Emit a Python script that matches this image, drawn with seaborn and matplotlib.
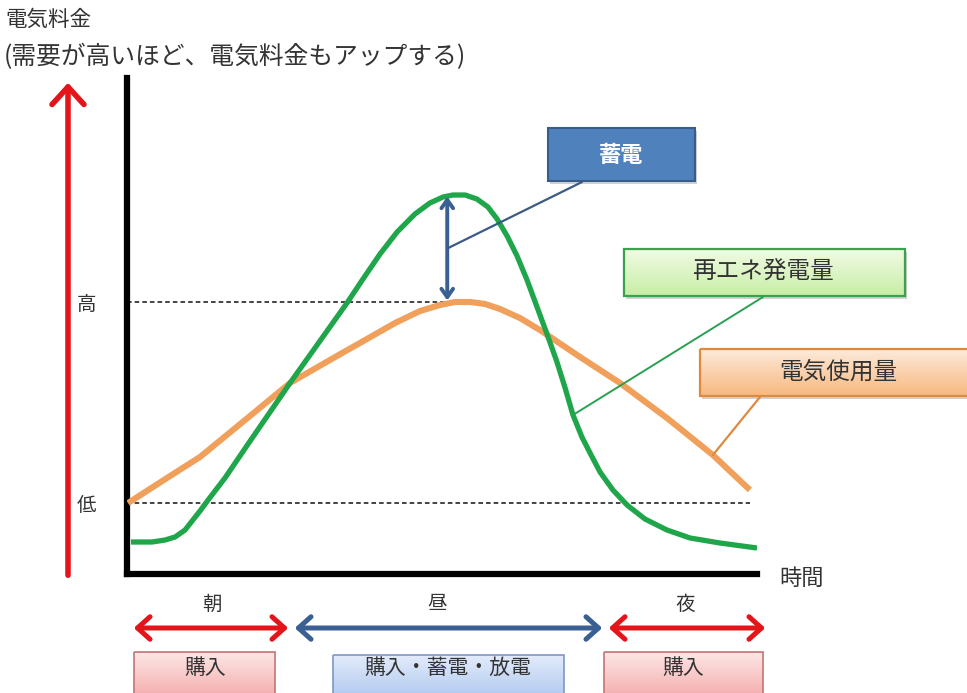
import numpy as np
import pandas as pd
import matplotlib
matplotlib.use("Agg")
import matplotlib.pyplot as plt
import seaborn as sns
from matplotlib.patches import Rectangle, FancyArrowPatch, ConnectionPatch
from matplotlib.colors import LinearSegmentedColormap

# Renewable generation over the day (hour, relative level)
gen_hours = [0.15, 0.95, 1.45, 1.83, 2.21, 2.48, 2.78, 3.09, 3.73, 4.69, 6.21,
             7.35, 8.38, 8.99, 9.64, 10.29, 10.97, 11.54, 12.04, 12.42, 12.88,
             13.33, 13.75, 14.10, 14.48, 14.86, 15.24, 15.62, 16.00, 16.38,
             16.69, 16.99, 17.33, 17.64, 18.02, 18.51, 19.05, 19.73, 20.57,
             21.45, 22.59, 24.0]
gen_level = [6.45, 6.45, 6.85, 7.46, 8.87, 10.69, 12.70, 14.92, 19.35, 26.81, 38.51,
             46.98, 54.64, 59.48, 64.52, 68.95, 72.58, 74.80, 76.01, 76.41, 76.41,
             75.60, 73.99, 71.57, 68.15, 64.11, 59.27, 53.83, 48.39, 42.74,
             37.50, 32.06, 27.62, 24.40, 20.56, 16.94, 13.91, 11.09, 8.87,
             7.26, 6.25, 5.24]

# Electricity usage over the day (hour, relative level)
use_hours = [0.04, 1.52, 2.78, 4.50, 6.21, 7.73, 9.14, 10.21, 11.16, 11.92, 12.50,
             13.07, 13.64, 14.21, 14.97, 15.73, 17.26, 18.78, 20.57, 22.32, 23.73]
use_level = [14.31, 19.35, 23.59, 31.05, 38.51, 43.15, 47.38, 50.60, 53.02, 54.23, 54.84,
             54.84, 54.44, 53.43, 51.61, 49.19, 43.75, 38.51, 31.45, 23.99, 16.94]

price_ticks = ["低", "高"]
periods = ["朝", "昼", "夜"]
actions = ["購入", "購入・蓄電・放電", "購入"]
series_names = ["再エネ発電量", "電気使用量"]

GREEN = "#1fa64b"
ORANGE = "#f0a05a"
NAVY = "#3a5f92"
RED = "#e3151b"

sns.set_theme(style="white")
plt.rcParams["font.family"] = ["Noto Sans CJK JP", "DejaVu Sans"]

fig = plt.figure(figsize=(9.67, 6.93), dpi=100)
ax = fig.add_axes([127 / 967, 119 / 693, 630 / 967, 496 / 693])

df = pd.concat([
    pd.DataFrame({"時刻": gen_hours, "量": gen_level, "系列": series_names[0]}),
    pd.DataFrame({"時刻": use_hours, "量": use_level, "系列": series_names[1]}),
])
sns.lineplot(data=df[df["系列"] == series_names[1]], x="時刻", y="量",
             color=ORANGE, lw=4.4, ax=ax, sort=False, estimator=None,
             solid_capstyle="butt", solid_joinstyle="round", zorder=3)
sns.lineplot(data=df[df["系列"] == series_names[0]], x="時刻", y="量",
             color=GREEN, lw=3.8, ax=ax, sort=False, estimator=None,
             solid_capstyle="butt", solid_joinstyle="round", zorder=4)

ax.set_xlim(0, 24)
ax.set_ylim(0, 100)
ax.set_xlabel("")
ax.set_ylabel("")
ax.set_xticks([])

low, high = min(use_level), max(use_level)
peak_hour = use_hours[int(np.argmax(use_level))]
ax.hlines(low, 0, use_hours[-1], colors="#111111", linestyles=(0, (3, 2)), lw=1.1, zorder=2)
ax.hlines(high, 0, peak_hour + 0.3, colors="#111111", linestyles=(0, (3, 2)), lw=1.1, zorder=2)
ax.set_yticks([low, high], price_ticks, fontsize=14, color="#333333")
ax.tick_params(axis="y", length=0, pad=22)

for side in ["top", "right"]:
    ax.spines[side].set_visible(False)
for side in ["left", "bottom"]:
    ax.spines[side].set_color("black")
    ax.spines[side].set_linewidth(4.5)

# storage gap between generation peak and usage peak
gen_peak = max(gen_level)
arrow_x = peak_hour - 0.3
ax.annotate("", xy=(arrow_x, gen_peak - 0.3), xytext=(arrow_x, high + 0.3),
            arrowprops=dict(arrowstyle="<->,head_length=0.5,head_width=0.35", lw=2.8,
                            color=NAVY, shrinkA=0, shrinkB=0), zorder=5)

# overlay in pixel space for annotations
ov = fig.add_axes([0, 0, 1, 1], zorder=5)
ov.patch.set_alpha(0)


def grad_box(x0, y0, x1, y1, top, bottom, edge, lw=1.3, shadow=True):
    if shadow:
        ov.add_patch(Rectangle((x0 + 2, y0 + 3), x1 - x0, y1 - y0, color="#000000",
                               alpha=0.18, lw=0, zorder=1))
    cmap = LinearSegmentedColormap.from_list("g", [top, bottom])
    ov.imshow(np.linspace(0, 1, 64).reshape(-1, 1), extent=(x0, x1, y1, y0),
              cmap=cmap, aspect="auto", zorder=2, interpolation="bilinear")
    ov.add_patch(Rectangle((x0, y0), x1 - x0, y1 - y0, fill=False, ec=edge, lw=lw, zorder=3))


# title
ov.text(5, 20, "電気料金", fontsize=15.5, color="#333333", va="center", ha="left")
ov.text(4, 57, "(需要が高いほど、電気料金もアップする)", fontsize=17.8, color="#333333",
        va="center", ha="left")

# price axis arrow
ov.add_patch(FancyArrowPatch((68, 578), (68, 80), arrowstyle="->,head_length=0.55,head_width=0.5",
                             mutation_scale=23, lw=4, color=RED, zorder=3))

ov.text(779, 578, "時間", fontsize=16, color="#333333", va="center", ha="left")

# callout boxes
ov.add_patch(Rectangle((550, 131), 147, 53, color="#000000", alpha=0.18, lw=0, zorder=1))
ov.add_patch(Rectangle((548, 128), 147, 53, fc="#4f81bd", ec="#385d8a", lw=1.5, zorder=2))
ov.text(621, 155, "蓄電", fontsize=16, color="white", fontweight="bold",
        ha="center", va="center", zorder=4)

grad_box(624, 249, 905, 296, "#f1fbe4", "#c8eea6", "#3aa24a", lw=1.6)
ov.text(763, 272, series_names[0], fontsize=17, color="#333333", ha="center", va="center", zorder=4)

grad_box(700, 349, 975, 396, "#fdeadb", "#f8b87e", "#e0893c", lw=1.6)
ov.text(838, 372, series_names[1], fontsize=17, color="#333333", ha="center", va="center", zorder=4)

# leader lines from the curves to the boxes
gi = gen_hours.index(16.99)
ui = use_hours.index(22.32)
for xy_a, xy_b, col, lw in [
    ((arrow_x, (gen_peak + high) / 2), (582, 182), "#3b5a85", 1.6),
    ((gen_hours[gi], gen_level[gi]), (763, 297), "#2aa050", 1.4),
    ((use_hours[ui], use_level[ui]), (760, 397), "#de8a40", 1.6),
]:
    con = ConnectionPatch(xyA=xy_a, coordsA=ax.transData, xyB=xy_b, coordsB=ov.transData,
                          color=col, lw=lw, zorder=6)
    fig.add_artist(con)

# day periods
period_spans = [(131, 291), (292, 605), (606, 768)]
period_colors = [RED, NAVY, RED]
period_label_x = [212, 437, 685]
for (x0, x1), col, lx, name in zip(period_spans, period_colors, period_label_x, periods):
    ov.add_patch(FancyArrowPatch((x0, 628), (x1, 628),
                                 arrowstyle="<->,head_length=0.5,head_width=0.45",
                                 mutation_scale=18, lw=3.6, color=col, zorder=3))
    ov.text(lx, 604, name, fontsize=14, color="#333333", ha="center", va="center")

grad_box(134, 652, 275, 705, "#fde6e6", "#f2a3a2", "#c27574", lw=1.2, shadow=False)
grad_box(333, 655, 564, 705, "#e2ebfb", "#a9c3ee", "#7f97c3", lw=1.2, shadow=False)
grad_box(604, 652, 763, 705, "#fde6e6", "#f2a3a2", "#c27574", lw=1.2, shadow=False)
for cx, txt in zip([205, 448, 683], actions):
    ov.text(cx, 668, txt, fontsize=15, color="#333333", ha="center", va="center", zorder=4)

ov.set_xlim(0, 967)
ov.set_ylim(693, 0)
ov.axis("off")

fig.savefig("out.png", dpi=100, facecolor="white")
